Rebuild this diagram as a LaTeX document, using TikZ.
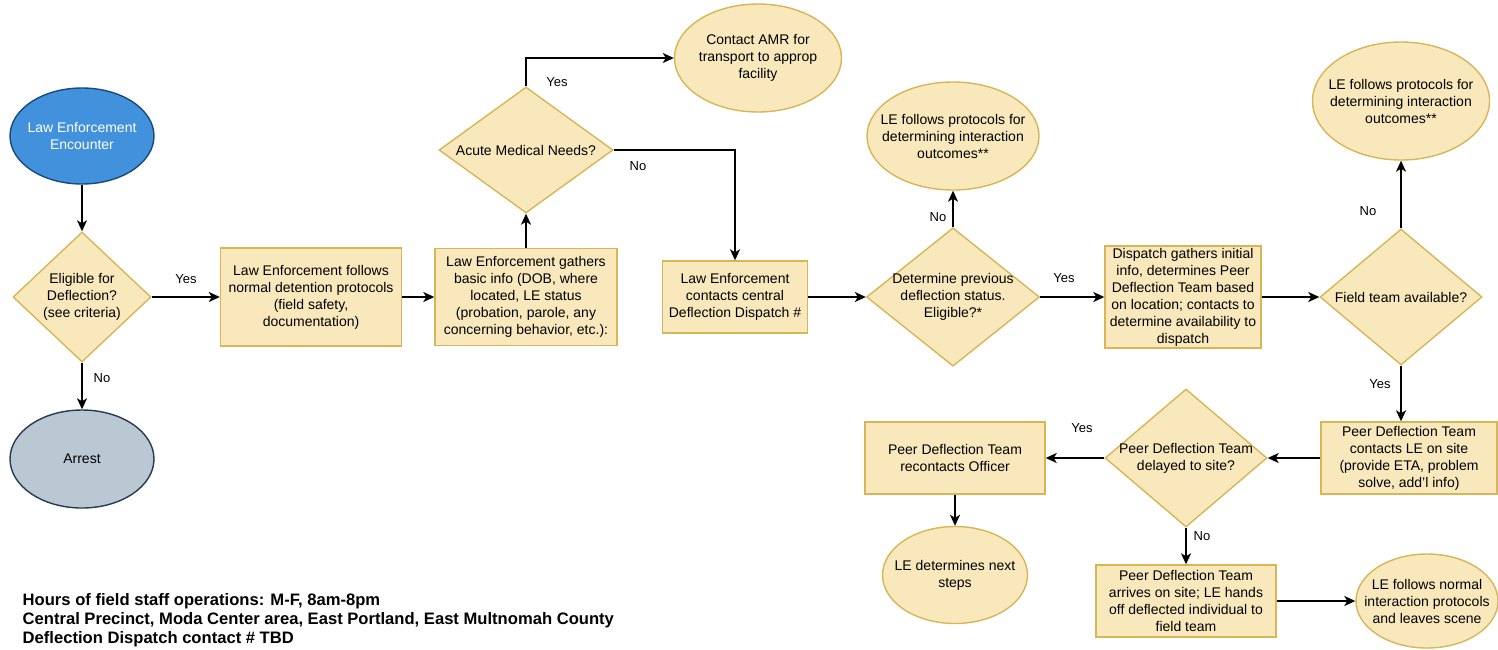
\documentclass[tikz,border=0pt]{standalone}
\usepackage{fontspec}
\setmainfont{Liberation Sans}
\usetikzlibrary{arrows.meta}
\usetikzlibrary{shapes.geometric}

\definecolor{boxfill}{RGB}{248,232,188}
\definecolor{boxline}{RGB}{214,182,86}
\definecolor{startfill}{RGB}{66,145,220}
\definecolor{startline}{RGB}{30,72,122}
\definecolor{arrestfill}{RGB}{186,200,212}
\definecolor{arrestline}{RGB}{38,58,84}

\begin{document}
\begin{tikzpicture}
[>={Stealth[length=11pt,width=10pt,inset=3pt]},x=1pt,y=-1pt,line width=1.8pt,
every node/.style={font=\fontsize{14}{17}\selectfont,align=center,line width=1.4pt},
procbox/.style={rectangle,draw=boxline,fill=boxfill,inner sep=1pt},
decision/.style={diamond,draw=boxline,fill=boxfill,inner xsep=-15pt,inner ysep=0pt},
endpt/.style={ellipse,draw=boxline,fill=boxfill,inner xsep=-15pt,inner ysep=0pt},
lbl/.style={font=\fontsize{13}{15}\selectfont,inner sep=0pt},
foot/.style={font=\fontsize{16.6}{19}\selectfont\bfseries,anchor=base west,inner sep=0pt}]

\useasboundingbox (0,0) rectangle (1498,649);

%left column
\node[endpt,fill=startfill,draw=startline,text=white,minimum width=144pt,minimum height=96pt] (start) at (82,136) {Law Enforcement\\Encounter};
\node[decision,minimum width=138pt,minimum height=130pt] (elig) at (82,297) {Eligible for\\Deflection?\\(see criteria)};
\node[endpt,fill=arrestfill,draw=arrestline,minimum width=144pt,minimum height=98pt] (arrest) at (82,459) {Arrest};

%top row
\node[procbox,minimum width=181pt,minimum height=98pt] (detain) at (311,297) {Law Enforcement follows\\normal detention protocols\\(field safety,\\documentation)};
\node[procbox,minimum width=182pt,minimum height=97pt] (gather) at (526,297) {Law Enforcement gathers\\basic info (DOB, where\\located, LE status\\(probation, parole, any\\concerning behavior, etc.):};
\node[decision,minimum width=174pt,minimum height=126pt] (medical) at (526,150) {Acute Medical Needs?};
\node[endpt,minimum width=167pt,minimum height=108pt] (amr) at (758,58) {Contact AMR for\\transport to approp\\facility};
\node[procbox,minimum width=145pt,minimum height=72pt] (dispatch) at (735,297) {Law Enforcement\\contacts central\\Deflection Dispatch \#};
\node[decision,minimum width=173pt,minimum height=125pt] (prevdefl) at (953,297) {Determine previous\\deflection status.\\Eligible?*};
\node[endpt,minimum width=172pt,minimum height=108pt] (outcome1) at (953,136) {LE follows protocols for\\determining interaction\\outcomes**};
\node[procbox,minimum width=156pt,minimum height=102pt] (dispgather) at (1183,297) {Dispatch gathers initial\\info, determines Peer\\Deflection Team based\\on location; contacts to\\determine availability to\\dispatch};
\node[decision,minimum width=162pt,minimum height=136pt] (avail) at (1401,297) {Field team available?};
\node[endpt,minimum width=177pt,minimum height=118pt] (outcome2) at (1401,101) {LE follows protocols for\\determining interaction\\outcomes**};

%bottom row
\node[procbox,minimum width=176pt,minimum height=72pt] (pdtcontact) at (1409,458) {Peer Deflection Team\\contacts LE on site\\(provide ETA, problem\\solve, add'l info)};
\node[decision,minimum width=162pt,minimum height=138pt] (delayed) at (1186,458) {Peer Deflection Team\\delayed to site?};
\node[procbox,minimum width=180pt,minimum height=72pt] (recontact) at (955,458) {Peer Deflection Team\\recontacts Officer};
\node[endpt,minimum width=145pt,minimum height=97pt] (nextsteps) at (955,575) {LE determines next\\steps};
\node[procbox,minimum width=180pt,minimum height=72pt] (arrive) at (1186,601) {Peer Deflection Team\\arrives on site; LE hands\\off deflected individual to\\field team};
\node[endpt,minimum width=142pt,minimum height=94pt] (normal) at (1427,601) {LE follows normal\\interaction protocols\\and leaves scene};

%branch labels
\node[lbl] (y1) at (186,279) {Yes};
\node[lbl] (n1) at (102,378) {No};
\node[lbl] (y2) at (557,82) {Yes};
\node[lbl] (n2) at (638,166) {No};
\node[lbl] (n3) at (938,217) {No};
\node[lbl] (y3) at (1064,278) {Yes};
\node[lbl] (n4) at (1368,211) {No};
\node[lbl] (y4) at (1380,384) {Yes};
\node[lbl] (y5) at (1082,428) {Yes};
\node[lbl] (n5) at (1202,536) {No};

%notes
\node[foot] (hours) at (22,605) {Hours of field staff operations: M-F, 8am-8pm};
\node[foot] (area) at (22,624) {Central Precinct, Moda Center area, East Portland, East Multnomah County};
\node[foot] (contact) at (22,643) {Deflection Dispatch contact \# TBD};

%straight arrows
\foreach \from/\to in {start/elig,elig/arrest,elig/detain,detain/gather,gather/medical,dispatch/prevdefl,prevdefl/outcome1,prevdefl/dispgather,dispgather/avail,avail/outcome2,pdtcontact/delayed,delayed/recontact,recontact/nextsteps,delayed/arrive,arrive/normal}
\draw [->] (\from) edge (\to);

%elbow arrows
\draw [->] (medical.north) |- (amr.west);
\draw [->] (medical.east) -| (dispatch.north);
\draw [->] (avail.south) -- (avail.south |- pdtcontact.north);

\end{tikzpicture}
\end{document}
